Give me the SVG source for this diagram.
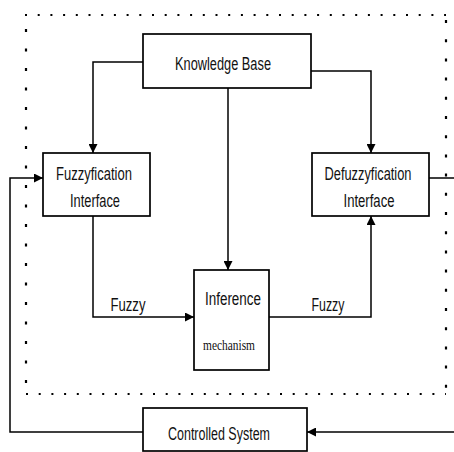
<svg xmlns="http://www.w3.org/2000/svg" width="454" height="452" viewBox="0 0 454 452">
<defs>
<marker id="ah" viewBox="0 0 10 10" refX="10" refY="5" markerWidth="11" markerHeight="9" markerUnits="userSpaceOnUse" orient="auto">
<path d="M0,0 L10,5 L0,10 Z" fill="#000"/>
</marker>
<style>
.box{fill:#fff;stroke:#000;stroke-width:1.7}
.ln{fill:none;stroke:#000;stroke-width:1.5}
.arr{fill:none;stroke:#000;stroke-width:1.5;marker-end:url(#ah)}
.dot{fill:none;stroke:#000;stroke-width:2.2}
.t{font-family:"Liberation Sans",Arial,sans-serif;font-size:17.5px;fill:#111;text-anchor:middle}
.s{font-family:"Liberation Serif","Times New Roman",serif;font-size:15px;fill:#111;text-anchor:middle}
</style>
</defs>
<rect width="454" height="452" fill="#fff"/>
<g id="boundary">
<line class="dot" x1="25" y1="15" x2="446" y2="15" stroke-dasharray="2 10.7"/>
<line class="dot" x1="26" y1="29" x2="26" y2="394" stroke-dasharray="3 16.5"/>
<line class="dot" x1="446" y1="20" x2="446" y2="394" stroke-dasharray="3 16.2"/>
<line class="dot" x1="26" y1="394" x2="446" y2="394" stroke-dasharray="2 10.7"/>
</g>
<g id="connectors">
<path class="arr" d="M143,62 H93 V153"/>
<path class="arr" d="M311,71 H371 V153"/>
<path class="arr" d="M228,88 V270"/>
<path class="arr" d="M93,216 V317 H194"/>
<path class="arr" d="M269,317 H371 V216"/>
<path class="ln" d="M429,178 H456 V432"/>
<path class="arr" d="M456,432 H307"/>
<path class="arr" d="M143,432 H10 V178 H43"/>
</g>
<g id="knowledge-base">
<rect class="box" x="143" y="34" width="168" height="54"/>
<text class="t" x="223" y="70" textLength="96" lengthAdjust="spacingAndGlyphs">Knowledge Base</text>
</g>
<g id="fuzzyfication">
<rect class="box" x="43" y="153" width="107" height="63"/>
<text class="t" x="94" y="180" textLength="76" lengthAdjust="spacingAndGlyphs">Fuzzyfication</text>
<text class="t" x="95" y="207" textLength="50" lengthAdjust="spacingAndGlyphs">Interface</text>
</g>
<g id="defuzzyfication">
<rect class="box" x="312" y="153" width="117" height="63"/>
<text class="t" x="368" y="180" textLength="87" lengthAdjust="spacingAndGlyphs">Defuzzyfication</text>
<text class="t" x="369" y="207" textLength="51" lengthAdjust="spacingAndGlyphs">Interface</text>
</g>
<g id="inference">
<rect class="box" x="194" y="270" width="75" height="100"/>
<text class="t" x="233" y="305" textLength="56" lengthAdjust="spacingAndGlyphs">Inference</text>
<text class="s" x="229" y="350" textLength="52" lengthAdjust="spacingAndGlyphs">mechanism</text>
</g>
<g id="controlled-system">
<rect class="box" x="143" y="408" width="164" height="43"/>
<text class="t" x="219" y="440" textLength="102" lengthAdjust="spacingAndGlyphs">Controlled System</text>
</g>
<g id="labels">
<text class="t" x="128" y="311" textLength="35" lengthAdjust="spacingAndGlyphs">Fuzzy</text>
<text class="t" x="328" y="311" textLength="33" lengthAdjust="spacingAndGlyphs">Fuzzy</text>
</g>
</svg>
